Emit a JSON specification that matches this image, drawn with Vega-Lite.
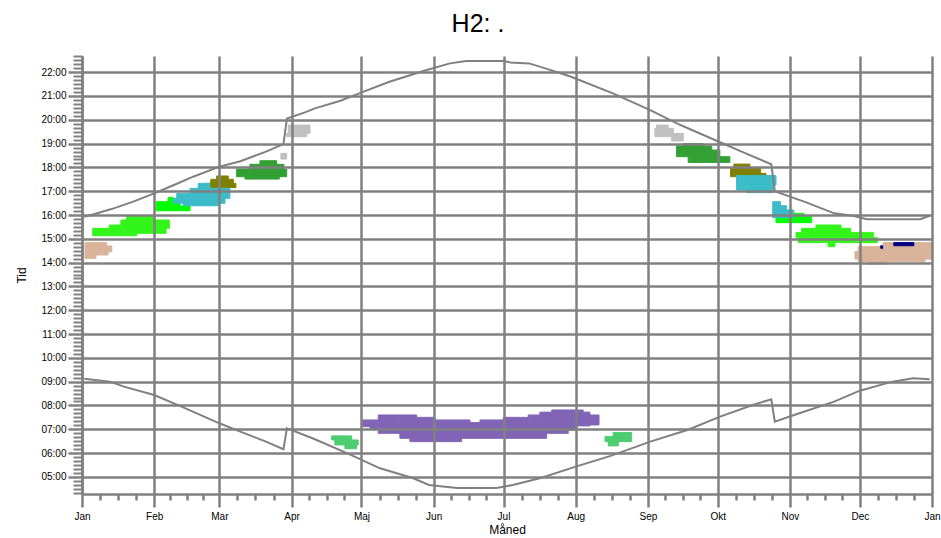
{
  "$schema": "https://vega.github.io/schema/vega-lite/v6.json",
  "width": 850,
  "height": 438,
  "padding": {"left": 15, "top": 12, "right": 5, "bottom": 2},
  "background": "white",
  "title": {"text": "H2: .", "fontSize": 25, "font": "Liberation Sans", "fontWeight": "normal", "color": "#000", "anchor": "middle", "frame": "group", "dx": -29, "offset": 18},
  "config": {"view": {"stroke": null}, "font": "Liberation Sans"},
  "datasets": {
    "felter": [
      {"gruppe": "tan", "start": 1.3, "slut": 10.6, "fra": 14.70, "til": 14.84},
      {"gruppe": "tan", "start": 1.3, "slut": 12.8, "fra": 14.46, "til": 14.70},
      {"gruppe": "tan", "start": 1.3, "slut": 11.2, "fra": 14.32, "til": 14.46},
      {"gruppe": "tan", "start": 1.3, "slut": 6.0, "fra": 14.18, "til": 14.32},
      {"gruppe": "lysegroen", "start": 19.2, "slut": 31.3, "fra": 15.79, "til": 15.96},
      {"gruppe": "lysegroen", "start": 16.7, "slut": 37.5, "fra": 15.58, "til": 15.79},
      {"gruppe": "lysegroen", "start": 11.7, "slut": 37.5, "fra": 15.44, "til": 15.58},
      {"gruppe": "lysegroen", "start": 4.6, "slut": 36.1, "fra": 15.23, "til": 15.44},
      {"gruppe": "lysegroen", "start": 4.6, "slut": 23.5, "fra": 15.13, "til": 15.23},
      {"gruppe": "groen", "start": 37, "slut": 39.2, "fra": 16.56, "til": 16.74},
      {"gruppe": "groen", "start": 31.8, "slut": 42.1, "fra": 16.38, "til": 16.56},
      {"gruppe": "groen", "start": 31.8, "slut": 46.4, "fra": 16.18, "til": 16.38},
      {"gruppe": "oliven", "start": 57.8, "slut": 62.8, "fra": 17.50, "til": 17.64},
      {"gruppe": "oliven", "start": 55.3, "slut": 65, "fra": 17.33, "til": 17.50},
      {"gruppe": "oliven", "start": 53.5, "slut": 66.1, "fra": 17.15, "til": 17.33},
      {"gruppe": "cyan", "start": 49.9, "slut": 54.9, "fra": 17.12, "til": 17.33},
      {"gruppe": "cyan", "start": 46.4, "slut": 63.5, "fra": 16.91, "til": 17.12},
      {"gruppe": "cyan", "start": 40.7, "slut": 63.5, "fra": 16.70, "til": 16.91},
      {"gruppe": "cyan", "start": 39.2, "slut": 61.4, "fra": 16.49, "til": 16.70},
      {"gruppe": "cyan", "start": 43.5, "slut": 58.5, "fra": 16.39, "til": 16.49},
      {"gruppe": "moerkegroen", "start": 76.4, "slut": 83.6, "fra": 18.13, "til": 18.28},
      {"gruppe": "moerkegroen", "start": 72.1, "slut": 86.7, "fra": 17.93, "til": 18.13},
      {"gruppe": "moerkegroen", "start": 66.4, "slut": 87.9, "fra": 17.61, "til": 17.93},
      {"gruppe": "moerkegroen", "start": 70, "slut": 84.7, "fra": 17.51, "til": 17.61},
      {"gruppe": "graa", "start": 85.4, "slut": 87.9, "fra": 18.35, "til": 18.59},
      {"gruppe": "graa", "start": 88.6, "slut": 97.9, "fra": 19.43, "til": 19.78},
      {"gruppe": "graa", "start": 87.9, "slut": 96.5, "fra": 19.29, "til": 19.43},
      {"gruppe": "mellemgroen", "start": 107.2, "slut": 115.8, "fra": 6.55, "til": 6.72},
      {"gruppe": "mellemgroen", "start": 108.6, "slut": 118.6, "fra": 6.34, "til": 6.55},
      {"gruppe": "mellemgroen", "start": 112.9, "slut": 117.9, "fra": 6.18, "til": 6.34},
      {"gruppe": "lilla", "start": 120.5, "slut": 123.7, "fra": 7.11, "til": 7.39},
      {"gruppe": "lilla", "start": 123.7, "slut": 127.2, "fra": 7.00, "til": 7.39},
      {"gruppe": "lilla", "start": 127.2, "slut": 136.5, "fra": 6.83, "til": 7.60},
      {"gruppe": "lilla", "start": 136.5, "slut": 140.8, "fra": 6.62, "til": 7.60},
      {"gruppe": "lilla", "start": 140.8, "slut": 143.7, "fra": 6.48, "til": 7.60},
      {"gruppe": "lilla", "start": 143.7, "slut": 151.6, "fra": 6.48, "til": 7.50},
      {"gruppe": "lilla", "start": 151.6, "slut": 163, "fra": 6.48, "til": 7.39},
      {"gruppe": "lilla", "start": 163, "slut": 166.6, "fra": 6.62, "til": 7.39},
      {"gruppe": "lilla", "start": 166.6, "slut": 170.9, "fra": 6.62, "til": 7.28},
      {"gruppe": "lilla", "start": 170.9, "slut": 180.9, "fra": 6.62, "til": 7.39},
      {"gruppe": "lilla", "start": 180.9, "slut": 191.6, "fra": 6.62, "til": 7.50},
      {"gruppe": "lilla", "start": 191.6, "slut": 196.6, "fra": 6.62, "til": 7.60},
      {"gruppe": "lilla", "start": 196.6, "slut": 199.5, "fra": 6.62, "til": 7.72},
      {"gruppe": "lilla", "start": 199.5, "slut": 201.7, "fra": 6.83, "til": 7.72},
      {"gruppe": "lilla", "start": 201.7, "slut": 208.8, "fra": 6.83, "til": 7.81},
      {"gruppe": "lilla", "start": 208.8, "slut": 212.4, "fra": 6.97, "til": 7.81},
      {"gruppe": "lilla", "start": 212.4, "slut": 215.2, "fra": 7.14, "til": 7.81},
      {"gruppe": "lilla", "start": 215.2, "slut": 218.1, "fra": 7.14, "til": 7.72},
      {"gruppe": "lilla", "start": 218.1, "slut": 222, "fra": 7.18, "til": 7.60},
      {"gruppe": "mellemgroen", "start": 228.1, "slut": 236, "fra": 6.69, "til": 6.86},
      {"gruppe": "mellemgroen", "start": 224.6, "slut": 236, "fra": 6.48, "til": 6.69},
      {"gruppe": "mellemgroen", "start": 226, "slut": 230.3, "fra": 6.30, "til": 6.48},
      {"gruppe": "graa", "start": 246.7, "slut": 251.7, "fra": 19.64, "til": 19.78},
      {"gruppe": "graa", "start": 246, "slut": 253.9, "fra": 19.29, "til": 19.64},
      {"gruppe": "graa", "start": 253.2, "slut": 258.2, "fra": 19.11, "til": 19.43},
      {"gruppe": "moerkegroen", "start": 258.2, "slut": 266.8, "fra": 18.90, "til": 19.0},
      {"gruppe": "moerkegroen", "start": 255.3, "slut": 270.4, "fra": 18.73, "til": 18.90},
      {"gruppe": "moerkegroen", "start": 255.3, "slut": 273.9, "fra": 18.45, "til": 18.73},
      {"gruppe": "moerkegroen", "start": 260.3, "slut": 278.2, "fra": 18.21, "til": 18.45},
      {"gruppe": "oliven", "start": 279.9, "slut": 286.8, "fra": 17.96, "til": 18.14},
      {"gruppe": "oliven", "start": 278.5, "slut": 291.4, "fra": 17.75, "til": 17.96},
      {"gruppe": "oliven", "start": 278.5, "slut": 293.7, "fra": 17.61, "til": 17.75},
      {"gruppe": "cyan", "start": 281.1, "slut": 298, "fra": 17.26, "til": 17.66},
      {"gruppe": "cyan", "start": 281.1, "slut": 296.8, "fra": 17.05, "til": 17.26},
      {"gruppe": "cyan", "start": 285.4, "slut": 296.8, "fra": 16.94, "til": 17.05},
      {"gruppe": "groen", "start": 301.1, "slut": 310, "fra": 15.93, "til": 16.07},
      {"gruppe": "groen", "start": 298, "slut": 313.3, "fra": 15.68, "til": 15.93},
      {"gruppe": "cyan", "start": 296.6, "slut": 300, "fra": 16.39, "til": 16.56},
      {"gruppe": "cyan", "start": 296.6, "slut": 302.6, "fra": 16.21, "til": 16.39},
      {"gruppe": "cyan", "start": 296.6, "slut": 305.7, "fra": 15.89, "til": 16.21},
      {"gruppe": "lysegroen", "start": 315.2, "slut": 325.9, "fra": 15.44, "til": 15.58},
      {"gruppe": "lysegroen", "start": 309, "slut": 330, "fra": 15.27, "til": 15.44},
      {"gruppe": "lysegroen", "start": 306.6, "slut": 339.8, "fra": 15.05, "til": 15.27},
      {"gruppe": "lysegroen", "start": 307.6, "slut": 341.5, "fra": 14.84, "til": 15.05},
      {"gruppe": "lysegroen", "start": 320.4, "slut": 323.3, "fra": 14.67, "til": 14.84},
      {"gruppe": "tan", "start": 344, "slut": 365, "fra": 14.67, "til": 14.84},
      {"gruppe": "tan", "start": 333.3, "slut": 365, "fra": 14.46, "til": 14.67},
      {"gruppe": "tan", "start": 331.9, "slut": 365, "fra": 14.15, "til": 14.46},
      {"gruppe": "tan", "start": 333.3, "slut": 362, "fra": 14.04, "til": 14.15},
      {"gruppe": "tan", "start": 337.6, "slut": 345.5, "fra": 13.94, "til": 14.04},
      {"gruppe": "navy", "start": 348.6, "slut": 357.2, "fra": 14.71, "til": 14.84},
      {"gruppe": "navy", "start": 343, "slut": 343.8, "fra": 14.60, "til": 14.71}
    ],
    "sol": [
      {"serie": "Solnedgang", "dag": 1, "tid": 15.93},
      {"serie": "Solnedgang", "dag": 5, "tid": 16.03},
      {"serie": "Solnedgang", "dag": 13, "tid": 16.26},
      {"serie": "Solnedgang", "dag": 22, "tid": 16.56},
      {"serie": "Solnedgang", "dag": 31, "tid": 16.91},
      {"serie": "Solnedgang", "dag": 39, "tid": 17.24},
      {"serie": "Solnedgang", "dag": 48, "tid": 17.62},
      {"serie": "Solnedgang", "dag": 59, "tid": 18.03},
      {"serie": "Solnedgang", "dag": 68, "tid": 18.26},
      {"serie": "Solnedgang", "dag": 79, "tid": 18.66},
      {"serie": "Solnedgang", "dag": 86.5, "tid": 18.98},
      {"serie": "Solnedgang", "dag": 88, "tid": 20.05},
      {"serie": "Solnedgang", "dag": 96, "tid": 20.32},
      {"serie": "Solnedgang", "dag": 100, "tid": 20.48},
      {"serie": "Solnedgang", "dag": 111, "tid": 20.8},
      {"serie": "Solnedgang", "dag": 119, "tid": 21.11},
      {"serie": "Solnedgang", "dag": 132, "tid": 21.6},
      {"serie": "Solnedgang", "dag": 148, "tid": 22.09},
      {"serie": "Solnedgang", "dag": 158, "tid": 22.37},
      {"serie": "Solnedgang", "dag": 165, "tid": 22.47},
      {"serie": "Solnedgang", "dag": 181, "tid": 22.47},
      {"serie": "Solnedgang", "dag": 184, "tid": 22.41},
      {"serie": "Solnedgang", "dag": 192, "tid": 22.37},
      {"serie": "Solnedgang", "dag": 200, "tid": 22.13},
      {"serie": "Solnedgang", "dag": 210, "tid": 21.81},
      {"serie": "Solnedgang", "dag": 228, "tid": 21.11},
      {"serie": "Solnedgang", "dag": 244, "tid": 20.41},
      {"serie": "Solnedgang", "dag": 257, "tid": 19.78},
      {"serie": "Solnedgang", "dag": 273, "tid": 19.1},
      {"serie": "Solnedgang", "dag": 285, "tid": 18.59},
      {"serie": "Solnedgang", "dag": 296, "tid": 18.13},
      {"serie": "Solnedgang", "dag": 297.5, "tid": 17.0},
      {"serie": "Solnedgang", "dag": 304, "tid": 16.77},
      {"serie": "Solnedgang", "dag": 311, "tid": 16.53},
      {"serie": "Solnedgang", "dag": 323, "tid": 16.07},
      {"serie": "Solnedgang", "dag": 331, "tid": 15.97},
      {"serie": "Solnedgang", "dag": 337, "tid": 15.82},
      {"serie": "Solnedgang", "dag": 360, "tid": 15.82},
      {"serie": "Solnedgang", "dag": 364, "tid": 15.97},
      {"serie": "Solopgang", "dag": 1, "tid": 9.12},
      {"serie": "Solopgang", "dag": 12, "tid": 9.0},
      {"serie": "Solopgang", "dag": 18, "tid": 8.79},
      {"serie": "Solopgang", "dag": 31, "tid": 8.44},
      {"serie": "Solopgang", "dag": 42, "tid": 7.98},
      {"serie": "Solopgang", "dag": 59, "tid": 7.25},
      {"serie": "Solopgang", "dag": 68, "tid": 6.9},
      {"serie": "Solopgang", "dag": 79, "tid": 6.48},
      {"serie": "Solopgang", "dag": 86.5, "tid": 6.16},
      {"serie": "Solopgang", "dag": 88, "tid": 7.04},
      {"serie": "Solopgang", "dag": 99, "tid": 6.62},
      {"serie": "Solopgang", "dag": 114, "tid": 5.99},
      {"serie": "Solopgang", "dag": 128, "tid": 5.36},
      {"serie": "Solopgang", "dag": 142, "tid": 4.95},
      {"serie": "Solopgang", "dag": 149, "tid": 4.66},
      {"serie": "Solopgang", "dag": 161, "tid": 4.53},
      {"serie": "Solopgang", "dag": 178, "tid": 4.53},
      {"serie": "Solopgang", "dag": 185, "tid": 4.66},
      {"serie": "Solopgang", "dag": 197, "tid": 4.95},
      {"serie": "Solopgang", "dag": 212, "tid": 5.43},
      {"serie": "Solopgang", "dag": 227, "tid": 5.88},
      {"serie": "Solopgang", "dag": 244, "tid": 6.48},
      {"serie": "Solopgang", "dag": 260, "tid": 6.97},
      {"serie": "Solopgang", "dag": 274, "tid": 7.53},
      {"serie": "Solopgang", "dag": 288, "tid": 8.02},
      {"serie": "Solopgang", "dag": 296, "tid": 8.26},
      {"serie": "Solopgang", "dag": 297.5, "tid": 7.32},
      {"serie": "Solopgang", "dag": 308, "tid": 7.67},
      {"serie": "Solopgang", "dag": 323, "tid": 8.16},
      {"serie": "Solopgang", "dag": 334, "tid": 8.62},
      {"serie": "Solopgang", "dag": 348, "tid": 9.0},
      {"serie": "Solopgang", "dag": 357, "tid": 9.14},
      {"serie": "Solopgang", "dag": 364, "tid": 9.1}
    ]
  },
  "layer": [
    {
      "data": {"name": "felter"},
      "mark": {"type": "rect", "strokeWidth": 1},
      "encoding": {
        "x": {
          "field": "start", "type": "quantitative",
          "scale": {"domain": [0, 365], "nice": false, "zero": false},
          "axis": {
            "orient": "bottom", "zindex": 1,
            "values": [0, 31, 59, 90, 120, 151, 181, 212, 243, 273, 304, 334, 365],
            "labelExpr": "['Jan','Feb','Mar','Apr','Maj','Jun','Jul','Aug','Sep','Okt','Nov','Dec','Jan'][indexof([0,31,59,90,120,151,181,212,243,273,304,334,365], datum.value)]",
            "title": "Måned", "titleFontSize": 12, "titleFontWeight": "normal", "titleColor": "#000", "titlePadding": 3,
            "grid": true, "gridColor": "#808080", "gridWidth": 2.5, "gridOpacity": 1,
            "domainColor": "#808080", "domainWidth": 2.5,
            "tickColor": "#808080", "tickWidth": 2.5, "tickSize": 13,
            "labelFontSize": 10, "labelColor": "#000", "labelPadding": 4, "labelFlush": false, "labelOverlap": false
          }
        },
        "x2": {"field": "slut"},
        "y": {
          "field": "fra", "type": "quantitative",
          "scale": {"domain": [4.28, 22.68], "nice": false, "zero": false},
          "axis": {
            "orient": "left", "zindex": 1,
            "values": [5, 6, 7, 8, 9, 10, 11, 12, 13, 14, 15, 16, 17, 18, 19, 20, 21, 22],
            "labelExpr": "(datum.value < 10 ? '0' : '') + datum.value + ':00'",
            "title": "Tid", "titleFontSize": 12, "titleFontWeight": "normal", "titleColor": "#000", "titlePadding": 12,
            "grid": true, "gridColor": "#808080", "gridWidth": 2.5, "gridOpacity": 1,
            "domainColor": "#808080", "domainWidth": 2.5,
            "tickColor": "#808080", "tickWidth": 2.5, "tickSize": 14,
            "labelFontSize": 10, "labelColor": "#000", "labelPadding": 2, "labelFlush": false, "labelOverlap": false
          }
        },
        "y2": {"field": "til"},
        "color": {
          "field": "gruppe", "type": "nominal", "legend": null,
          "scale": {
            "domain": ["tan", "lysegroen", "groen", "cyan", "oliven", "moerkegroen", "graa", "mellemgroen", "lilla", "navy"],
            "range": ["#d9b39a", "#33f51a", "#00ff00", "#3bbcc8", "#808000", "#33a033", "#c0c0c0", "#4ccd70", "#8264b6", "#000080"]
          }
        },
        "stroke": {
          "field": "gruppe", "type": "nominal", "legend": null,
          "scale": {
            "domain": ["tan", "lysegroen", "groen", "cyan", "oliven", "moerkegroen", "graa", "mellemgroen", "lilla", "navy"],
            "range": ["#d9b39a", "#33f51a", "#00ff00", "#3bbcc8", "#808000", "#33a033", "#c0c0c0", "#4ccd70", "#8264b6", "#000080"]
          }
        }
      }
    },
    {
      "data": {"name": "sol"},
      "mark": {"type": "line", "color": "#808080", "strokeWidth": 2},
      "encoding": {
        "x": {
          "field": "dag", "type": "quantitative",
          "axis": {
            "orient": "bottom", "title": null, "labels": false, "grid": false, "domain": false,
            "values": [7.75, 15.5, 23.25, 38, 45, 52, 66.75, 74.5, 82.25, 97.5, 105, 112.5, 127.75, 135.5, 143.25, 158.5, 166, 173.5, 188.75, 196.5, 204.25, 219.75, 227.5, 235.25, 250.5, 258, 265.5, 280.75, 288.5, 296.25, 311.5, 319, 326.5, 341.75, 349.5, 357.25],
            "tickColor": "#808080", "tickWidth": 2.5, "tickSize": 6
          }
        },
        "y": {
          "field": "tid", "type": "quantitative",
          "axis": {
            "orient": "left", "title": null, "labels": false, "grid": false, "domain": false,
            "values": [4.3333, 4.5, 4.6667, 4.8333,
              5.1667, 5.3333, 5.5, 5.6667, 5.8333,
              6.1667, 6.3333, 6.5, 6.6667, 6.8333,
              7.1667, 7.3333, 7.5, 7.6667, 7.8333,
              8.1667, 8.3333, 8.5, 8.6667, 8.8333,
              9.1667, 9.3333, 9.5, 9.6667, 9.8333,
              10.1667, 10.3333, 10.5, 10.6667, 10.8333,
              11.1667, 11.3333, 11.5, 11.6667, 11.8333,
              12.1667, 12.3333, 12.5, 12.6667, 12.8333,
              13.1667, 13.3333, 13.5, 13.6667, 13.8333,
              14.1667, 14.3333, 14.5, 14.6667, 14.8333,
              15.1667, 15.3333, 15.5, 15.6667, 15.8333,
              16.1667, 16.3333, 16.5, 16.6667, 16.8333,
              17.1667, 17.3333, 17.5, 17.6667, 17.8333,
              18.1667, 18.3333, 18.5, 18.6667, 18.8333,
              19.1667, 19.3333, 19.5, 19.6667, 19.8333,
              20.1667, 20.3333, 20.5, 20.6667, 20.8333,
              21.1667, 21.3333, 21.5, 21.6667, 21.8333,
              22.1667, 22.3333, 22.5, 22.6667],
            "tickColor": "#808080", "tickWidth": 2, "tickSize": 9
          }
        },
        "detail": {"field": "serie"}
      }
    }
  ],
  "resolve": {"axis": {"x": "independent", "y": "independent"}}
}
